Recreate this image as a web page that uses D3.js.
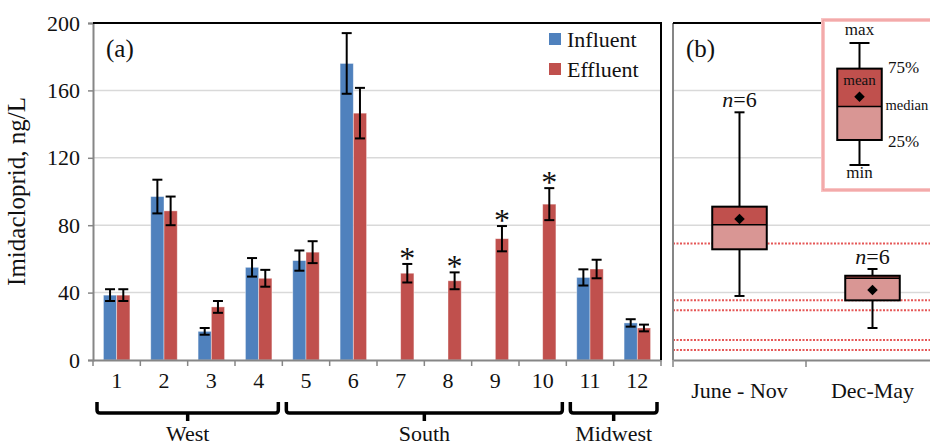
<!DOCTYPE html>
<html>
<head>
<meta charset="utf-8">
<script src="https://cdn.jsdelivr.net/npm/d3@7"></script>
<style>
  html, body { margin: 0; padding: 0; background: #fff; }
  svg text { font-family: 'Liberation Serif', 'Times New Roman', serif; fill: #111; }
</style>
</head>
<body>
<div id="chart"></div>
<script>
// panel (a): site means with error bars
const sites = ['1', '2', '3', '4', '5', '6', '7', '8', '9', '10', '11', '12'];
const series = ['Influent', 'Effluent'];
const influent = [38.5, 97, 17, 55, 59, 176, null, null, null, null, 49, 22];
const influentErr = [3.5, 10, 2, 5.5, 6, 18, null, null, null, null, 4.8, 2.2];
const effluent = [38.5, 88.5, 31.5, 48.5, 64, 146.5, 51.5, 47, 72, 92.5, 54, 19];
const effluentErr = [3.5, 8.5, 3.5, 5, 6.5, 15, 5.5, 5, 7.5, 9.5, 5.5, 2];
const starred = ['7', '8', '9', '10'];
const regionNames = ['West', 'South', 'Midwest'];
const regionFirst = ['1', '5', '11'];
const regionLast = ['4', '10', '12'];
const yTicks = [0, 40, 80, 120, 160, 200];

// panel (b): seasonal box plots
const seasons = ['June - Nov', 'Dec-May'];
const seasonMin = [38, 19];
const seasonQ1 = [65.7, 35.4];
const seasonMedian = [80.3, 48.5];
const seasonQ3 = [91, 50];
const seasonMax = [147, 54];
const seasonMean = [83.7, 41.5];
const seasonN = [6, 6];
const refLines = [69.2, 35.4, 29.5, 11.9, 5.9];

const W = 930, H = 447;
const colors = { Influent: '#4F81BD', Effluent: '#C0504D' };
const grid = '#d9d9d9', axisGray = '#868686';

const svg = d3.select('#chart').append('svg').attr('width', W).attr('height', H);

const y = d3.scaleLinear().domain([0, 200]).range([360, 23]);
const xa = d3.scaleBand().domain(sites).range([93, 661]).paddingInner(0.44).paddingOuter(0.22);
const xs = d3.scaleBand().domain(series).range([0, xa.bandwidth()]);
const xb = d3.scaleBand().domain(seasons).range([673, 939]);
const step = xa.step();
const leftEdge = (s) => xa(s) - step * 0.22;

// ---------- panel (a) ----------
const ga = svg.append('g');
ga.selectAll('line.grid').data(yTicks.slice(1, -1)).join('line')
  .attr('x1', 93).attr('x2', 661).attr('y1', (d) => y(d)).attr('y2', (d) => y(d))
  .attr('stroke', grid).attr('stroke-width', 1.5);

const rows = sites.map((s, i) => ({
  site: s,
  vals: [
    { key: 'Influent', v: influent[i], e: influentErr[i] },
    { key: 'Effluent', v: effluent[i], e: effluentErr[i] },
  ].filter((d) => d.v != null),
}));

const groups = ga.selectAll('g.site').data(rows).join('g')
  .attr('transform', (d) => `translate(${xa(d.site)},0)`);

groups.selectAll('rect').data((d) => d.vals).join('rect')
  .attr('x', (d) => xs(d.key)).attr('width', xs.bandwidth())
  .attr('y', (d) => y(d.v)).attr('height', (d) => y(0) - y(d.v))
  .attr('fill', (d) => colors[d.key])
  .attr('stroke', '#fff').attr('stroke-opacity', 0.5).attr('stroke-width', 0.8);

const err = groups.selectAll('g.err').data((d) => d.vals).join('g')
  .attr('stroke', '#000').attr('stroke-width', 2);
const cx = (d) => xs(d.key) + xs.bandwidth() / 2;
err.append('line').attr('x1', cx).attr('x2', cx)
  .attr('y1', (d) => y(d.v + d.e)).attr('y2', (d) => y(d.v - d.e));
err.append('line').attr('x1', (d) => cx(d) - 5).attr('x2', (d) => cx(d) + 5)
  .attr('y1', (d) => y(d.v + d.e)).attr('y2', (d) => y(d.v + d.e));
err.append('line').attr('x1', (d) => cx(d) - 5).attr('x2', (d) => cx(d) + 5)
  .attr('y1', (d) => y(d.v - d.e)).attr('y2', (d) => y(d.v - d.e));

groups.filter((d) => starred.includes(d.site))
  .selectAll('text.star').data((d) => d.vals.filter((v) => v.key === 'Effluent')).join('text')
  .attr('x', cx).attr('y', (d) => y(d.v + d.e) + 5)
  .attr('text-anchor', 'middle').attr('font-size', 32).text('*');

// axes of (a)
const yAxis = ga.append('g').attr('transform', 'translate(93,0)')
  .call(d3.axisLeft(y).tickValues(yTicks).tickSize(5).tickPadding(8));
yAxis.selectAll('text').attr('font-size', 22).attr('fill', '#111');
yAxis.selectAll('line').attr('stroke', axisGray).attr('stroke-width', 1.5);
yAxis.select('.domain').attr('stroke', axisGray).attr('stroke-width', 2);

const xAxis = ga.append('g').attr('transform', 'translate(0,360)')
  .call(d3.axisBottom(xa).tickSize(0).tickPadding(12));
xAxis.selectAll('text').attr('font-size', 22).attr('fill', '#111');
xAxis.select('.domain').attr('stroke', axisGray).attr('stroke-width', 2);
ga.selectAll('line.xt').data(sites.concat(['end'])).join('line')
  .attr('x1', (d) => (d === 'end' ? 661 : leftEdge(d)))
  .attr('x2', (d) => (d === 'end' ? 661 : leftEdge(d)))
  .attr('y1', 360).attr('y2', 366).attr('stroke', axisGray).attr('stroke-width', 1.5);

// frame top / right
ga.append('path').attr('d', `M93,${y(200)} H661 V360`).attr('fill', 'none')
  .attr('stroke', '#000').attr('stroke-width', 2);

ga.append('text').attr('x', 106).attr('y', 57).attr('font-size', 25).text('(a)');
svg.append('text').attr('transform', `translate(25,${(y(0) + y(200)) / 2}) rotate(-90)`)
  .attr('text-anchor', 'middle').attr('font-size', 25).text('Imidacloprid, ng/L');

// legend (a)
const leg = ga.selectAll('g.leg').data(series).join('g')
  .attr('transform', (d, i) => `translate(549,${33 + i * 30})`);
leg.append('rect').attr('width', 12).attr('height', 12).attr('fill', (d) => colors[d]);
leg.append('text').attr('x', 18).attr('y', 14).attr('font-size', 22).text((d) => d);

// region braces
const regions = regionNames.map((n, i) => ({
  name: n, x0: leftEdge(regionFirst[i]) + 4, x1: leftEdge(regionLast[i]) + step - 4,
}));
const braceTop = 402, braceY = 413, r = 3;
const bg = svg.selectAll('g.brace').data(regions).join('g');
bg.append('path')
  .attr('d', (d) => `M${d.x0},${braceTop} V${braceY - r} Q${d.x0},${braceY} ${d.x0 + r},${braceY}`
    + ` H${d.x1 - r} Q${d.x1},${braceY} ${d.x1},${braceY - r} V${braceTop}`
    + ` M${(d.x0 + d.x1) / 2},${braceY} V${braceY + 8}`)
  .attr('fill', 'none').attr('stroke', '#000').attr('stroke-width', 3.5);
bg.append('text').attr('x', (d) => (d.x0 + d.x1) / 2).attr('y', 441)
  .attr('text-anchor', 'middle').attr('font-size', 22).text((d) => d.name);

// ---------- panel (b) ----------
const gb = svg.append('g');
gb.selectAll('line.grid').data(yTicks.slice(1, -1)).join('line')
  .attr('x1', 673).attr('x2', W).attr('y1', (d) => y(d)).attr('y2', (d) => y(d))
  .attr('stroke', grid).attr('stroke-width', 1.5);

gb.selectAll('line.ref').data(refLines).join('line')
  .attr('x1', 673).attr('x2', W).attr('y1', (d) => y(d)).attr('y2', (d) => y(d))
  .attr('stroke', '#e03a3a').attr('stroke-width', 2).attr('stroke-dasharray', '2,1.5')
  .attr('stroke-opacity', 0.85);

gb.append('line').attr('x1', 673).attr('x2', 673).attr('y1', y(200)).attr('y2', 360)
  .attr('stroke', axisGray).attr('stroke-width', 2);
gb.append('line').attr('x1', 673).attr('x2', W).attr('y1', y(200)).attr('y2', y(200))
  .attr('stroke', '#000').attr('stroke-width', 2);

const xbAxis = gb.append('g').attr('transform', 'translate(0,360)')
  .call(d3.axisBottom(xb).tickSize(0).tickPadding(22));
xbAxis.selectAll('text').attr('font-size', 22).attr('fill', '#111');
xbAxis.select('.domain').attr('stroke', axisGray).attr('stroke-width', 2);
gb.selectAll('line.xt').data(seasons).join('line')
  .attr('x1', (d) => xb(d)).attr('x2', (d) => xb(d))
  .attr('y1', 360).attr('y2', 367).attr('stroke', axisGray).attr('stroke-width', 1.5);

const boxes = seasons.map((s, i) => ({
  s, min: seasonMin[i], q1: seasonQ1[i], med: seasonMedian[i], q3: seasonQ3[i],
  max: seasonMax[i], mean: seasonMean[i], n: seasonN[i],
}));
const bw = xb.bandwidth() * 0.41;
const bx = gb.selectAll('g.box').data(boxes).join('g')
  .attr('transform', (d) => `translate(${xb(d.s) + xb.bandwidth() / 2},0)`);

function drawBox(g, yy, w, cap) {
  g.append('line').attr('x1', 0).attr('x2', 0)
    .attr('y1', (d) => yy(d.max)).attr('y2', (d) => yy(d.min))
    .attr('stroke', '#000').attr('stroke-width', 2);
  ['max', 'min'].forEach((k) => {
    g.append('line').attr('x1', -cap).attr('x2', cap)
      .attr('y1', (d) => yy(d[k])).attr('y2', (d) => yy(d[k]))
      .attr('stroke', '#000').attr('stroke-width', 2);
  });
  g.append('rect').attr('x', -w / 2).attr('width', w)
    .attr('y', (d) => yy(d.med)).attr('height', (d) => yy(d.q1) - yy(d.med))
    .attr('fill', '#D99694');
  g.append('rect').attr('x', -w / 2).attr('width', w)
    .attr('y', (d) => yy(d.q3)).attr('height', (d) => yy(d.med) - yy(d.q3))
    .attr('fill', '#C0504D');
  g.append('rect').attr('x', -w / 2).attr('width', w)
    .attr('y', (d) => yy(d.q3)).attr('height', (d) => yy(d.q1) - yy(d.q3))
    .attr('fill', 'none').attr('stroke', '#000').attr('stroke-width', 2);
  g.append('line').attr('x1', -w / 2).attr('x2', w / 2)
    .attr('y1', (d) => yy(d.med)).attr('y2', (d) => yy(d.med))
    .attr('stroke', '#000').attr('stroke-width', 1.5);
  g.append('path').attr('d', d3.symbol(d3.symbolDiamond2, 70))
    .attr('transform', (d) => `translate(0,${yy(d.mean)})`).attr('fill', '#000');
}
drawBox(bx, y, bw, 5);

const nl = bx.append('text').attr('y', (d) => y(d.max) - 5).attr('text-anchor', 'middle')
  .attr('font-size', 22);
nl.append('tspan').attr('font-style', 'italic').text('n');
nl.append('tspan').text((d) => `=${d.n}`);

svg.append('text').attr('x', 686).attr('y', 57).attr('font-size', 25).text('(b)');

// box legend
const lg = svg.append('g');
lg.append('rect').attr('x', 823).attr('y', 20).attr('width', 140).attr('height', 170)
  .attr('fill', '#fff').attr('stroke', '#f8c4c4').attr('stroke-width', 4);
lg.append('rect').attr('x', 823).attr('y', 20).attr('width', 140).attr('height', 170)
  .attr('fill', 'none').attr('stroke', '#ee9090').attr('stroke-width', 1);
const ly = d3.scaleLinear().domain([0, 100]).range([165, 43]);
const legBox = lg.selectAll('g.lb').data([{ min: 0, q1: 20.5, med: 48, q3: 79, max: 100, mean: 56 }]).join('g')
  .attr('transform', 'translate(859.5,0)');
drawBox(legBox, ly, 44.5, 10);
legBox.append('text').attr('y', 35).attr('text-anchor', 'middle').attr('font-size', 17).text('max');
legBox.append('text').attr('y', 178).attr('text-anchor', 'middle').attr('font-size', 17).text('min');
legBox.append('text').attr('y', 85).attr('text-anchor', 'middle').attr('font-size', 15).text('mean');
const side = [['75%', 79, 17], ['median', 48, 14.5], ['25%', 20.5, 17]];
lg.selectAll('text.side').data(side).join('text')
  .attr('x', (d, i) => (i === 1 ? 885.5 : 888)).attr('y', (d, i) => ly(d[1]) + [4, 4, 7][i])
  .attr('font-size', (d) => d[2]).text((d) => d[0]);
</script>
</body>
</html>
